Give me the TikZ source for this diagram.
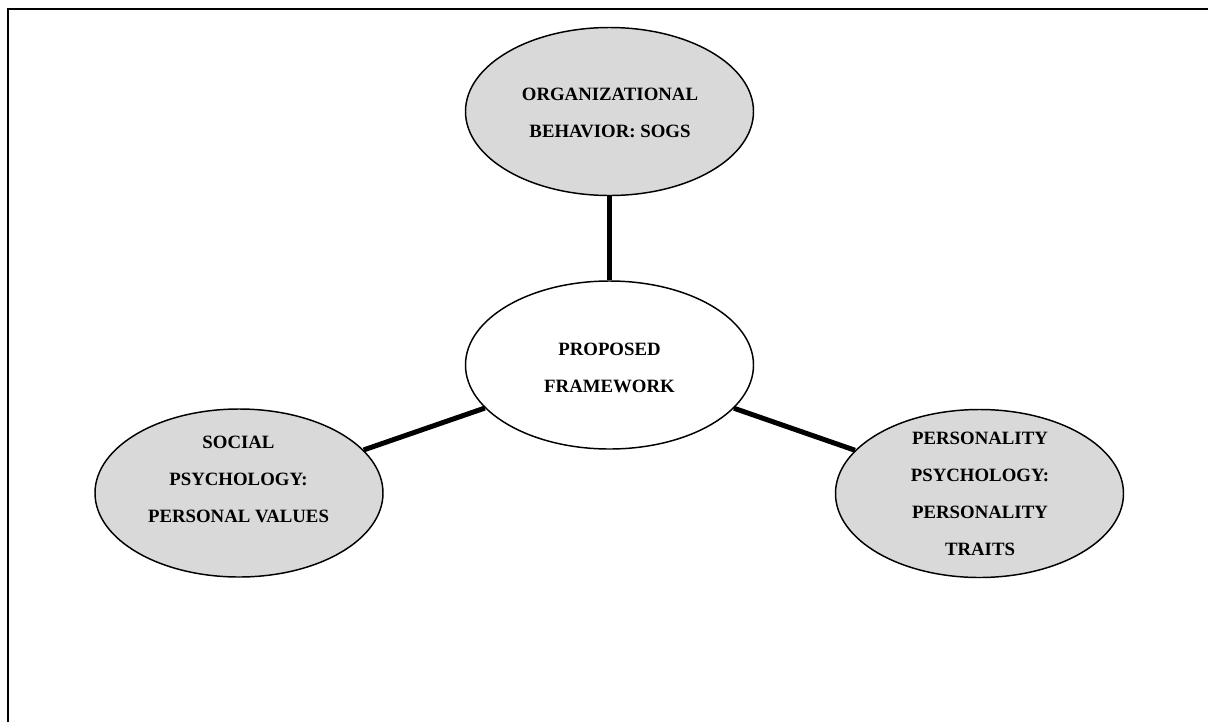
\documentclass[tikz,border=0pt]{standalone}
\usepackage{fontspec}
\setmainfont{Liberation Serif}
\usetikzlibrary{shapes.geometric}
\begin{document}
\begin{tikzpicture}[x=0.75pt,y=-0.75pt,
  blob/.style={ellipse,draw=black,line width=1.1pt,inner sep=0pt,
    minimum width=216pt,minimum height=126pt},
  grayblob/.style={blob,fill=black!15},
  whiteblob/.style={blob,fill=white},
  lbl/.style={align=center,font=\fontsize{14.1pt}{27.75pt}\selectfont\bfseries,inner sep=0pt},
  link/.style={line width=3.75pt,black}]
\useasboundingbox (0,0) rectangle (1208,722);
\draw[line width=1.6pt] (8,722) -- (8,9) -- (1208,9);
\node[grayblob] (org) at (609.5,111.5) {};
\node[whiteblob] (pf) at (609.5,365) {};
\node[grayblob] (soc) at (239,493) {};
\node[grayblob] (pers) at (979.5,493.5) {};
\node[lbl] (orgt) at (610,113) {ORGANIZATIONAL\\BEHAVIOR: SOGS};
\node[lbl] (pft) at (609.5,367.5) {PROPOSED\\FRAMEWORK};
\node[lbl] (soct) at (238.5,479) {SOCIAL\\PSYCHOLOGY:\\PERSONAL VALUES};
\node[lbl] (perst) at (980,493.5) {PERSONALITY\\PSYCHOLOGY:\\PERSONALITY\\TRAITS};
\draw[link] (org) -- (pf);
\draw[link] (soc) -- (pf);
\draw[link] (pers) -- (pf);
\end{tikzpicture}
\end{document}
